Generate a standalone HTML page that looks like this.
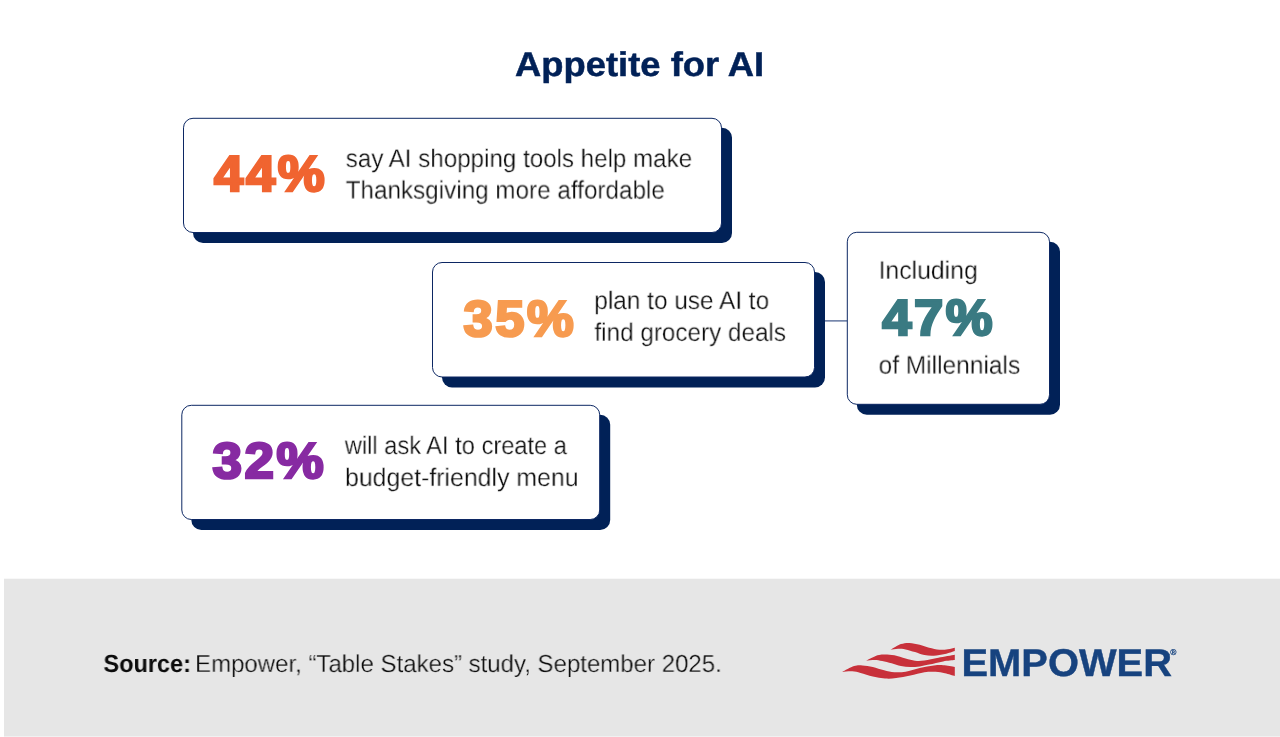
<!DOCTYPE html>
<html lang="en">
<head>
<meta charset="utf-8">
<title>Appetite for AI</title>
<style>
html,body{margin:0;padding:0;background:#fff;}
body{width:1280px;height:737px;position:relative;overflow:hidden;font-family:"Liberation Sans",sans-serif;color:#0c0c0c;}
.abs{position:absolute;left:0;top:0;white-space:nowrap;line-height:1;transform-origin:0 0;transform:translate(var(--x,0),var(--y,0)) scale(var(--s,1),var(--sy,1));will-change:transform;text-rendering:geometricPrecision;}
.title{font-size:34.2px;font-weight:bold;color:#012157;-webkit-text-stroke:0.5px #012157;}
.num{font-weight:bold;font-size:50.57px;letter-spacing:2.4px;-webkit-text-stroke:2.6px currentColor;}
.txt{font-size:25.5px;-webkit-text-stroke:0.3px #fff;}
#footer{position:absolute;left:4px;top:578px;width:1276px;height:159px;background:linear-gradient(#f8f8f8,#f8f8f8) 0 0/100% 1px no-repeat,linear-gradient(#f1f1f1,#f1f1f1) 0 158px/100% 1px no-repeat,#e6e6e6;}
.src{font-size:24.6px;}
.src span{-webkit-text-stroke:0.3px #e6e6e6;}
.emp{font-size:38.6px;font-weight:bold;color:#17437f;-webkit-text-stroke:0.4px #17437f;}
.reg{font-size:8.4px;font-weight:bold;color:#17437f;-webkit-text-stroke:0.2px #17437f;}
</style>
</head>
<body>
<div class="abs title" id="title" style="--x:515.12px;--y:48px;--s:1.0634;">Appetite for AI</div>
<svg id="boxes" style="position:absolute;left:0;top:0;" width="1280" height="560" viewBox="0 0 1280 560">
<line x1="824" y1="320.9" x2="847.3" y2="320.9" stroke="#3d5588" stroke-width="1.2"/>
<rect x="193" y="127.8" width="539" height="115.2" rx="10" fill="#012157"/>
<rect x="183.5" y="118.3" width="538" height="114.2" rx="9.5" fill="#fff" stroke="#0c2763" stroke-width="1"/>
<rect x="442" y="272" width="383" height="115.5" rx="10" fill="#012157"/>
<rect x="432.5" y="262.5" width="382" height="114.5" rx="9.5" fill="#fff" stroke="#0c2763" stroke-width="1"/>
<rect x="856.8" y="241.8" width="203.2" height="173" rx="10" fill="#012157"/>
<rect x="847.3" y="232.3" width="202.2" height="172" rx="9.5" fill="#fff" stroke="#0c2763" stroke-width="1"/>
<rect x="191.3" y="414.8" width="418.9" height="115.2" rx="10" fill="#012157"/>
<rect x="181.8" y="405.3" width="417.9" height="114.2" rx="9.5" fill="#fff" stroke="#0c2763" stroke-width="1"/>
</svg>

<div class="abs num" id="n1" style="--x:214.09px;--y:149.06px;--s:1.0429;color:#f06430;">44%</div>
<div class="abs txt" id="t1a" style="--x:345.75px;--y:147.06px;--s:0.9472;">say AI shopping tools help make</div>
<div class="abs txt" id="t1b" style="--x:345.68px;--y:178.59px;--s:0.9514;">Thanksgiving more affordable</div>

<div class="abs num" id="n2" style="--x:463.58px;--y:293.8px;--s:1.0378;color:#f79b50;">35%</div>
<div class="abs txt" id="t2a" style="--x:594.24px;--y:289.06px;--s:0.9564;">plan to use AI to</div>
<div class="abs txt" id="t2b" style="--x:594.44px;--y:320.84px;--s:0.9517;">find grocery deals</div>


<div class="abs txt" id="t3a" style="--x:878.62px;--y:258.86px;--s:0.9705;">Including</div>
<div class="abs num" id="n3" style="--x:882.36px;--y:293.12px;--s:1.0399;color:#3a7a82;">47%</div>
<div class="abs txt" id="t3b" style="--x:878.57px;--y:353.63px;--s:0.9605;">of Millennials</div>

<div class="abs num" id="n4" style="--x:212.47px;--y:436.38px;--s:1.0486;color:#872aa2;">32%</div>
<div class="abs txt" id="t4a" style="--x:344.76px;--y:434.01px;--s:0.9276;">will ask AI to create a</div>
<div class="abs txt" id="t4b" style="--x:345.01px;--y:466.06px;--s:0.9747;">budget-friendly menu</div>

<div id="footer"></div>
<div class="abs src" id="src1" style="--x:103.48px;--y:652.95px;--s:0.9542;"><b>Source:</b></div>
<div class="abs src" id="src2" style="--x:194.99px;--y:652.95px;--s:0.9764;"><span>Empower, “Table Stakes” study, September 2025.</span></div>
<svg id="flag" style="position:absolute;left:835px;top:635px;" width="130" height="50" viewBox="835 635 130 50"><g fill="#c8303a">
<path d="M890.6 649.7C892.3 648.8 897.8 645.2 900.9 644.1C904.0 643.0 906.3 642.8 909.4 642.9C912.5 643.0 916.4 643.9 919.7 644.8C923.0 645.6 925.8 647.0 929.1 647.8C932.4 648.6 936.3 649.5 939.4 649.7C942.5 649.9 945.2 649.6 947.8 649.2C950.4 648.9 953.6 648.0 954.8 647.7L954.8 651.1C953.2 651.6 948.5 653.3 945.0 654.1C941.5 654.9 937.2 655.6 933.8 655.8C930.3 656.0 927.5 655.7 924.4 655.1C921.3 654.5 918.1 653.1 915.0 652.1C911.9 651.1 908.4 650.0 905.6 649.4C902.8 648.8 900.6 648.8 898.1 648.8C895.6 648.8 891.9 649.6 890.6 649.7Z"/>
<path d="M866.2 660.7C868.1 659.8 874.4 656.3 877.5 655.3C880.6 654.2 882.2 654.4 885.0 654.4C887.8 654.4 891.0 654.6 894.4 655.3C897.8 656.0 902.2 657.7 905.6 658.6C909.0 659.5 911.9 660.4 915.0 660.7C918.1 661.0 920.5 661.0 924.4 660.5C928.3 660.0 933.3 658.7 938.4 657.7C943.5 656.7 952.1 655.2 954.8 654.7L954.8 660.0C952.8 660.2 947.4 660.6 943.1 661.4C938.8 662.1 933.0 663.7 929.1 664.5C925.2 665.3 922.8 665.9 919.7 666.4C916.6 666.8 913.4 667.0 910.3 667.0C907.2 667.0 904.0 666.7 900.9 666.1C897.8 665.5 894.7 664.1 891.6 663.3C888.5 662.4 885.0 661.5 882.2 661.0C879.4 660.5 877.4 660.0 874.7 660.0C872.0 660.0 867.7 660.6 866.2 660.7Z"/>
<path d="M842.3 671.9C844.3 670.9 850.7 667.2 854.1 666.1C857.5 665.0 859.4 665.3 862.5 665.4C865.6 665.5 869.2 666.1 872.8 666.9C876.4 667.7 880.5 669.4 884.1 670.3C887.7 671.2 890.8 672.0 894.4 672.2C898.0 672.4 901.4 672.4 905.6 671.7C909.8 671.0 915.0 669.2 919.7 668.1C924.4 667.1 929.9 666.1 933.8 665.6C937.6 665.1 939.6 665.0 943.1 665.2C946.6 665.4 952.8 666.6 954.8 666.9L954.8 676.0C953.2 675.5 948.2 673.9 945.0 673.2C941.8 672.5 939.0 671.9 935.6 671.8C932.2 671.6 928.6 671.6 924.4 672.2C920.2 672.8 915.0 674.5 910.3 675.5C905.6 676.5 900.5 677.6 896.2 678.1C892.0 678.6 888.9 678.8 885.0 678.5C881.1 678.2 876.9 677.5 872.8 676.6C868.7 675.7 864.0 673.8 860.6 672.9C857.2 672.0 855.2 671.5 852.2 671.3C849.2 671.1 843.9 671.8 842.3 671.9Z"/>
</g></svg>
<div class="abs emp" id="emp" style="--x:961.4px;--y:645.2px;--s:1.0345;">EMPOWER</div>
<div class="abs reg" id="reg" style="--x:1170.2px;--y:648.0px;--s:1;">®</div>
</body>
</html>
